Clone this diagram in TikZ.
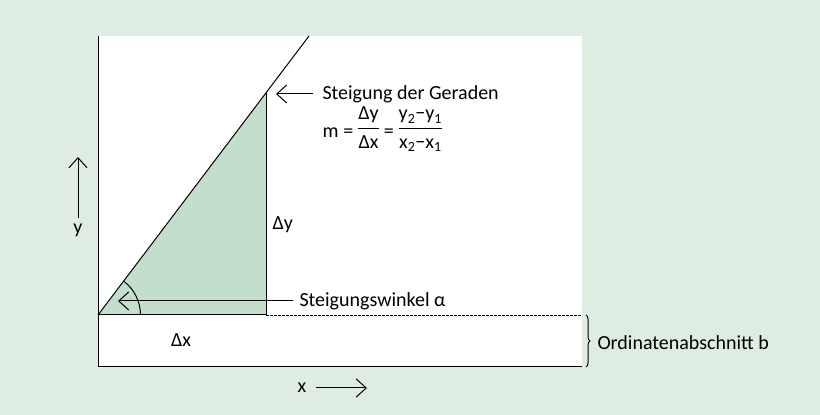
\documentclass[tikz,border=0pt]{standalone}
\usepackage{amsmath}
\usepackage{fontspec}
\setmainfont{Carlito}
\usetikzlibrary{arrows.meta,decorations.pathreplacing}
\definecolor{bggreen}{RGB}{222,236,226}
\definecolor{trifill}{RGB}{194,223,204}
\setlength{\nulldelimiterspace}{0pt}
\newcommand{\bruch}[2]{\raisebox{4pt}{$\dfrac{\text{#1}}{\text{#2}}$}}

\begin{document}
\begin{tikzpicture}[x=1pt,y=1pt,line width=1pt,>={Straight Barb[length=10pt,width=18pt]},
	lbl/.style={font=\fontsize{20}{24}\selectfont,inner sep=0pt}]
	% Hintergrund und Zeichenfeld
	\fill[bggreen] (0,0) rectangle (820,415);
	\fill[white] (98,48) rectangle (582,379);
	
	\coordinate (O) at (98,100);
	\coordinate (P) at (266,322);
	\coordinate (C) at (266,100);
	\coordinate (T) at (309,379);
	
	\fill[trifill] (O)--(P)--(C)--cycle;
	\draw (98,379)--(98,48)--(582,48);
	\draw (O)--(T);
	\draw (P)--(C)--(O);
	\draw[line width=0.9pt,dash pattern=on 2.5pt off 1.5pt] (C)--(582,100);
	\draw ([xshift=42.5pt]O) arc[start angle=0,end angle=52.9,radius=42.5];
	
	% Beschriftungen
	\node[lbl,anchor=west,inner xsep=9pt] (geraden) at (313,321) {Steigung der Geraden};
	\coordinate (gtip) at (276,321);
	\draw[->] (geraden.west)--(gtip);
	\node[lbl,anchor=base west] (formel) at (322,277)
		{m\hspace{5pt}=\hspace{5pt}\bruch{Δy}{Δx}\hspace{5pt}=\hspace{5pt}\bruch{y$_{\text{2}}$−y$_{\text{1}}$}{x$_{\text{2}}$−x$_{\text{1}}$}};
	
	\node[lbl,anchor=west,inner xsep=6pt] (winkel) at (293,114) {Steigungswinkel α};
	\coordinate (wtip) at (118,114);
	\draw[->] (winkel.west)--(wtip);
	
	\node[lbl,anchor=west] (dy) at (272,190) {Δy};
	\node[lbl] (dx) at (181,75) {Δx};
	
	\draw[decorate,decoration={brace,amplitude=4pt}] (586,100)--(586,48);
	\node[lbl,anchor=west] (ordinate) at (597,72) {Ordinatenabschnitt b};
	
	% Achsen
	\node[lbl] (ylbl) at (78,185) {y};
	\coordinate (ytip) at (78,258);
	\draw[->] ([yshift=12pt]ylbl.center)--(ytip);
	\node[lbl] (xlbl) at (302,27) {x};
	\coordinate (xtip) at (367,27);
	\draw[->] ([xshift=9pt]xlbl.east)--(xtip);
\end{tikzpicture}
\end{document}
